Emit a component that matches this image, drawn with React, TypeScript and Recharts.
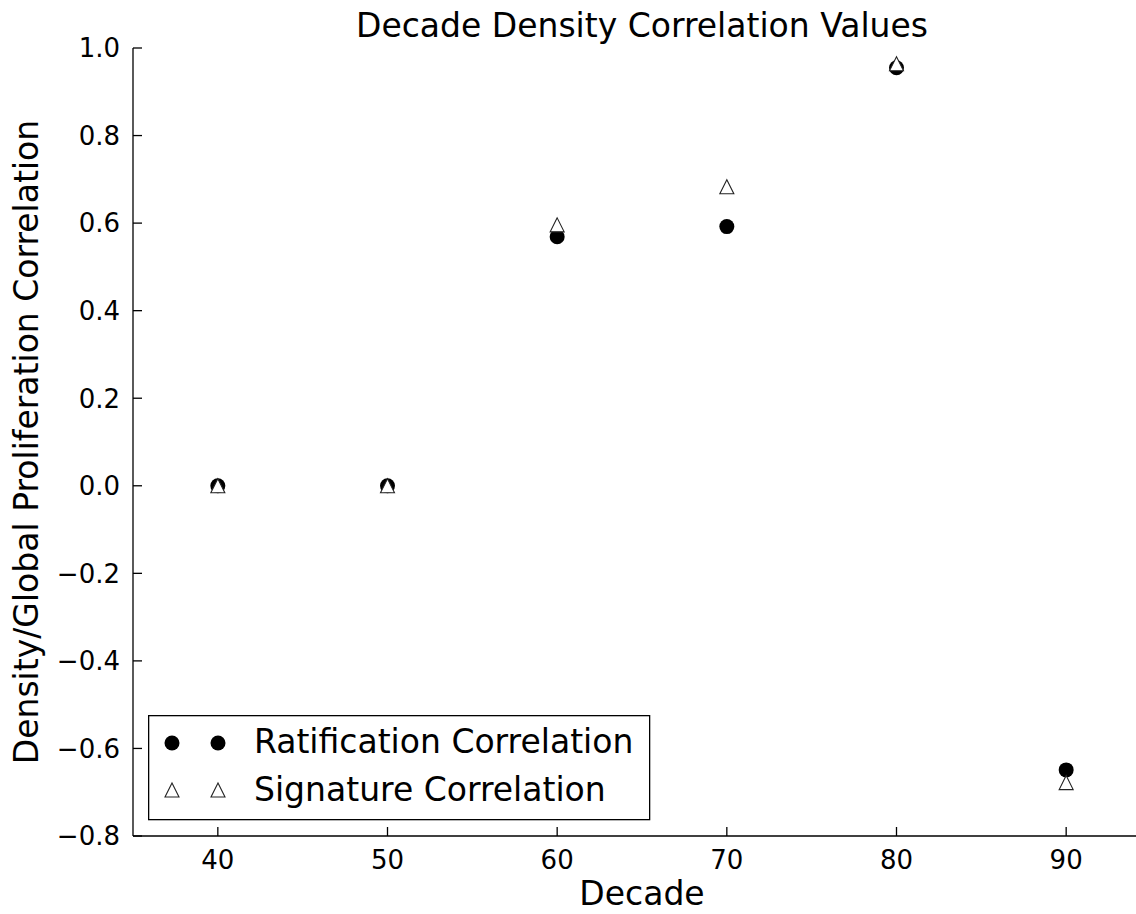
import React from 'react';
import { ScatterChart, Scatter, XAxis, YAxis, Legend } from 'recharts';

const decades = [40, 50, 60, 70, 80, 90];
const ratification = [0.0, 0.0, 0.569, 0.592, 0.955, -0.649];
const signature = [0.0, 0.0, 0.596, 0.683, 0.964, -0.678];
const xTicks = [40, 50, 60, 70, 80, 90];
const yTicks = [-0.8, -0.6, -0.4, -0.2, 0.0, 0.2, 0.4, 0.6, 0.8, 1.0];
const seriesNames = ['Ratification Correlation', 'Signature Correlation'];
const title = 'Decade Density Correlation Values';
const xLabel = 'Decade';
const yLabel = 'Density/Global Proliferation Correlation';

const FONT = '"DejaVu Sans", sans-serif';
const TICK_LEN = 9;
const AX_W = 1.3;
const BIG = 33;
const SMALL = 26;

const ratData = decades.map((d, i) => ({ x: d, y: ratification[i] }));
const sigData = decades.map((d, i) => ({ x: d, y: signature[i] }));

const fmtY = (v: number) => v.toFixed(1).replace('-', '\u2212');

const BottomTick = (p: any) => {
  const { x, y, payload } = p;
  return (
    <g>
      <line x1={x} y1={y} x2={x} y2={y - TICK_LEN} stroke="#000" strokeWidth={AX_W} />
      <text x={x} y={y + 33} textAnchor="middle" fontSize={SMALL} fontFamily={FONT} fill="#000">
        {payload.value}
      </text>
    </g>
  );
};

const TopTick = (p: any) => {
  const { x, y } = p;
  return <line x1={x} y1={y} x2={x} y2={y + TICK_LEN} stroke="#000" strokeWidth={AX_W} />;
};

const LeftTick = (p: any) => {
  const { x, y, payload } = p;
  return (
    <g>
      <line x1={x} y1={y} x2={x + TICK_LEN} y2={y} stroke="#000" strokeWidth={AX_W} />
      <text x={x - 13} y={y} dy="0.36em" textAnchor="end" fontSize={SMALL} fontFamily={FONT} fill="#000">
        {fmtY(payload.value)}
      </text>
    </g>
  );
};

const RightTick = (p: any) => {
  const { x, y } = p;
  return <line x1={x} y1={y} x2={x - TICK_LEN} y2={y} stroke="#000" strokeWidth={AX_W} />;
};

const Dot = (p: any) => <circle cx={p.cx} cy={p.cy} r={7.5} fill="#000" />;

const Tri = (p: any) => {
  const { cx, cy } = p;
  const h = 7;
  return (
    <polygon
      points={`${cx},${cy - h} ${cx - h},${cy + h} ${cx + h},${cy + h}`}
      fill="#fff"
      stroke="#222"
      strokeWidth={1.1}
    />
  );
};

const LegendBox = () => (
  <svg width={503} height={106} style={{ display: 'block' }}>
    <rect x={0.65} y={0.65} width={501} height={104} fill="#fff" stroke="#000" strokeWidth={AX_W} />
    <circle cx={24} cy={28} r={7.5} fill="#000" />
    <circle cx={70} cy={28} r={7.5} fill="#000" />
    <Tri cx={24} cy={75} />
    <Tri cx={70} cy={75} />
    <text x={106} y={38} fontSize={BIG} fontFamily={FONT} fill="#000">{seriesNames[0]}</text>
    <text x={106} y={86} fontSize={BIG} fontFamily={FONT} fill="#000">{seriesNames[1]}</text>
  </svg>
);

export default function App() {
  return (
    <div style={{ position: 'fixed', left: 0, top: 0, width: 1136, height: 914, overflow: 'hidden', background: '#fff' }}>
      <ScatterChart width={1200} height={914} margin={{ top: 48, right: 49, bottom: 0, left: 0 }}>
        <XAxis
          xAxisId="b"
          dataKey="x"
          type="number"
          domain={[35, 95]}
          ticks={xTicks}
          allowDataOverflow
          orientation="bottom"
          height={78}
          tickSize={0}
          tickMargin={0}
          tickLine={false}
          axisLine={{ stroke: '#000', strokeWidth: AX_W }}
          tick={BottomTick}
          interval={0}
        />
        <XAxis
          xAxisId="t"
          dataKey="x"
          type="number"
          domain={[35, 95]}
          ticks={xTicks}
          allowDataOverflow
          orientation="top"
          height={0}
          tickSize={0}
          tickMargin={0}
          tickLine={false}
          axisLine={{ stroke: '#000', strokeWidth: AX_W }}
          tick={TopTick}
          interval={0}
        />
        <YAxis
          yAxisId="l"
          dataKey="y"
          type="number"
          domain={[-0.8, 1.0]}
          ticks={yTicks}
          allowDataOverflow
          orientation="left"
          width={133}
          tickSize={0}
          tickMargin={0}
          tickLine={false}
          axisLine={{ stroke: '#000', strokeWidth: AX_W }}
          tick={LeftTick}
          interval={0}
        />
        <YAxis
          yAxisId="r"
          dataKey="y"
          type="number"
          domain={[-0.8, 1.0]}
          ticks={yTicks}
          allowDataOverflow
          orientation="right"
          width={0}
          tickSize={0}
          tickMargin={0}
          tickLine={false}
          axisLine={{ stroke: '#000', strokeWidth: AX_W }}
          tick={RightTick}
          interval={0}
        />
        <Scatter
          name={seriesNames[0]}
          data={ratData}
          xAxisId="b"
          yAxisId="l"
          shape={Dot}
          fill="#000"
          isAnimationActive={false}
        />
        <Scatter
          name={seriesNames[1]}
          data={sigData}
          xAxisId="b"
          yAxisId="l"
          shape={Tri}
          fill="#fff"
          isAnimationActive={false}
        />
        <Legend
          layout="vertical"
          align="center"
          verticalAlign="middle"
          content={LegendBox}
          wrapperStyle={{ left: 148, top: 715, width: 503, height: 106, bottom: 'auto', right: 'auto' }}
        />
        <text x={642} y={37} textAnchor="middle" fontSize={BIG} fontFamily={FONT} fill="#000">
          {title}
        </text>
        <text x={642} y={905} textAnchor="middle" fontSize={BIG} fontFamily={FONT} fill="#000">
          {xLabel}
        </text>
        <text
          x={38}
          y={442}
          textAnchor="middle"
          fontSize={BIG}
          fontFamily={FONT}
          fill="#000"
          transform="rotate(-90, 38, 442)"
        >
          {yLabel}
        </text>
      </ScatterChart>
    </div>
  );
}
